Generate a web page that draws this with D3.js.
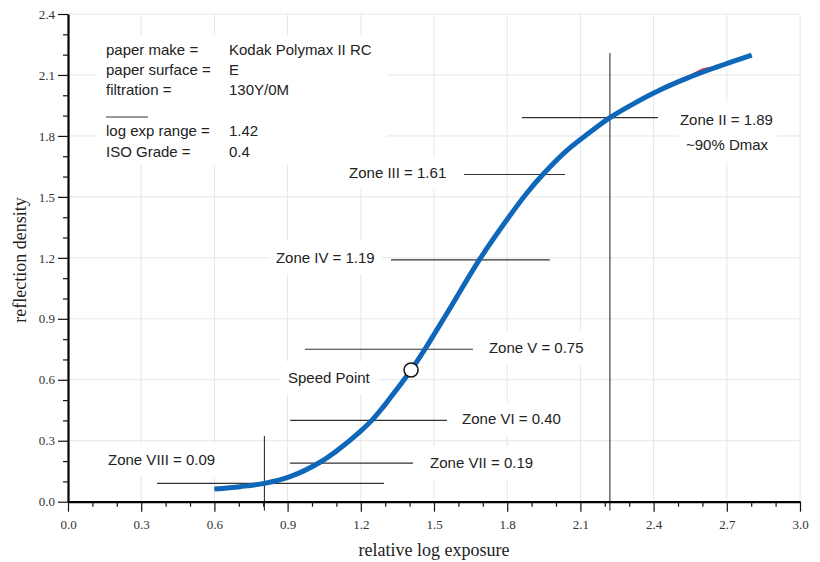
<!DOCTYPE html>
<html><head><meta charset="utf-8">
<script src="https://cdn.jsdelivr.net/npm/d3@7"></script>
<style>
body{margin:0;background:#fff;}
svg{display:block;}
</style></head><body>
<svg id="c" width="820" height="562"></svg>
<script>
// Smoothed curve (blue)
const fitX = [0.60,0.705,0.805,0.91,1.033,1.115,1.197,1.245,1.32,1.406,1.463,1.552,1.689,1.798,1.88,1.948,2.044,2.139,2.221,2.317,2.426,2.535,2.645,2.802];
const fitY = [0.062,0.074,0.09,0.123,0.194,0.263,0.345,0.40,0.51,0.648,0.751,0.925,1.196,1.386,1.518,1.613,1.728,1.818,1.890,1.958,2.026,2.083,2.133,2.198];
// Measured data (red)
const measX = [0.6,0.7,0.8,0.9,1.0,1.1,1.2,1.3,1.4,1.5,1.6,1.7,1.8,1.9,2.0,2.1,2.2,2.3,2.4,2.5,2.6,2.7,2.8];
const measY = [0.062,0.073,0.089,0.119,0.172,0.238,0.348,0.465,0.635,0.83,1.03,1.215,1.39,1.545,1.68,1.785,1.873,1.948,2.012,2.068,2.128,2.154,2.197];
// Zone marker lines
const zoneNames = ["Zone VIII = 0.09","Zone VII = 0.19","Zone VI = 0.40","Zone V = 0.75","Zone IV = 1.19","Zone III = 1.61","Zone II = 1.89"];
const zoneY  = [0.09,0.19,0.40,0.75,1.19,1.61,1.89];
const zoneX1 = [0.365,0.91,0.91,0.971,1.324,1.623,1.86];
const zoneX2 = [1.295,1.414,1.553,1.66,1.975,2.037,2.418];
// label anchors (data coords, text start)
const zoneLabX = [0.164,1.484,1.615,1.725,0.852,1.152,2.508];
const zoneLabY = [0.204,0.19,0.406,0.756,1.202,1.618,1.882];
// vertical markers
const vX = [0.805, 2.221];
const vTop = [0.323, 2.208];
const speedPt = [1.406, 0.648];
const xTicks = [0.0,0.3,0.6,0.9,1.2,1.5,1.8,2.1,2.4,2.7,3.0];
const yTicks = [0.0,0.3,0.6,0.9,1.2,1.5,1.8,2.1,2.4];
const legendKeys = ["paper make =","paper surface =","filtration =","","log exp range =","ISO Grade ="];
const legendVals = ["Kodak Polymax II RC","E","130Y/0M","","1.42","0.4"];

const svg = d3.select("#c");
const x = d3.scaleLinear().domain([0,3]).range([68,800]);
const y = d3.scaleLinear().domain([0,2.4]).range([501.7,14]);
const sans = "Liberation Sans, Arial, sans-serif";
const serif = "Liberation Serif, DejaVu Serif, serif";

// grid
const g = svg.append("g");
g.selectAll(".gx").data(xTicks.slice(1)).join("line")
  .attr("x1",d=>x(d)).attr("x2",d=>x(d)).attr("y1",y(0)).attr("y2",y(2.4))
  .attr("stroke","#e6e6e6").attr("stroke-width",1);
g.selectAll(".gy").data(yTicks.slice(1)).join("line")
  .attr("x1",x(0)).attr("x2",x(3)).attr("y1",d=>y(d)).attr("y2",d=>y(d))
  .attr("stroke","#e6e6e6").attr("stroke-width",1);

const boxes = svg.append("g");
const lines = svg.append("g");
const texts = svg.append("g");

// legend
boxes.append("rect").attr("x",97).attr("y",35).attr("width",290).attr("height",130).attr("fill","#fff");
const rowY = [50,70,90,null,131,152];
legendKeys.forEach((k,i)=>{
  if(rowY[i]===null) return;
  texts.append("text").attr("x",106).attr("y",rowY[i]).attr("dy","0.35em")
    .attr("font-family",sans).attr("font-size",15).attr("fill","#222").text(k);
  texts.append("text").attr("x",229).attr("y",rowY[i]).attr("dy","0.35em")
    .attr("font-family",sans).attr("font-size",15).attr("fill","#222").text(legendVals[i]);
});
texts.append("line").attr("x1",106).attr("x2",148).attr("y1",117).attr("y2",117).attr("stroke","#333").attr("stroke-width",1);

function label(str, px, py){
  const t = texts.append("text").attr("x",px).attr("y",py).attr("dy","0.35em")
    .attr("font-family",sans).attr("font-size",15).attr("fill","#222").text(str);
  const b = t.node().getBBox();
  boxes.append("rect").attr("x",b.x-7).attr("y",b.y-8).attr("width",b.width+14).attr("height",b.height+16).attr("fill","#fff");
}
zoneNames.forEach((n,i)=>label(n, x(zoneLabX[i]), y(zoneLabY[i])));
label("~90% Dmax", 686, 145);
label("Speed Point", 288, 378);

lines.selectAll(".zl").data(zoneY).join("line")
  .attr("x1",(d,i)=>x(zoneX1[i])).attr("x2",(d,i)=>x(zoneX2[i]))
  .attr("y1",d=>y(d)).attr("y2",d=>y(d))
  .attr("stroke","#333").attr("stroke-width",1.1);
lines.selectAll(".vl").data(vX).join("line")
  .attr("x1",d=>x(d)).attr("x2",d=>x(d))
  .attr("y1",y(-0.045)).attr("y2",(d,i)=>y(vTop[i]))
  .attr("stroke","#333").attr("stroke-width",1.1);

const measData = measX.map((v,i)=>[v,measY[i]]);
const fitData = fitX.map((v,i)=>[v,fitY[i]]);
svg.append("path").datum(measData)
  .attr("d",d3.line().x(d=>x(d[0])).y(d=>y(d[1])))
  .attr("fill","none").attr("stroke","#e3242b").attr("stroke-width",1.6);
svg.append("path").datum(fitData)
  .attr("d",d3.line().x(d=>x(d[0])).y(d=>y(d[1])).curve(d3.curveCatmullRom.alpha(0.5)))
  .attr("fill","none").attr("stroke","#0f67b9").attr("stroke-width",5).attr("stroke-linecap","butt");

svg.append("circle").attr("cx",x(speedPt[0])).attr("cy",y(speedPt[1])).attr("r",7)
  .attr("fill","#fff").attr("stroke","#111").attr("stroke-width",1.5);

// axes
const fmt = d3.format(".1f");
const xMinor = d3.range(0,31).map(d=>d/10).filter(d=>Math.round(d*10)%3!==0);
const yMinor = d3.range(0,25).map(d=>d/10).filter(d=>Math.round(d*10)%3!==0);

const xa = svg.append("g").attr("transform",`translate(0,${y(0)})`);
xa.call(d3.axisBottom(x).tickValues(xTicks).tickFormat(fmt).tickSize(10).tickPadding(8).tickSizeOuter(0));
xa.append("g").call(d3.axisBottom(x).tickValues(xMinor).tickFormat("").tickSize(5).tickSizeOuter(0))
  .select(".domain").remove();
const ya = svg.append("g").attr("transform",`translate(${x(0)},0)`);
ya.call(d3.axisLeft(y).tickValues(yTicks).tickFormat(fmt).tickSize(10).tickPadding(3).tickSizeOuter(0));
ya.append("g").call(d3.axisLeft(y).tickValues(yMinor).tickFormat("").tickSize(5).tickSizeOuter(0))
  .select(".domain").remove();
svg.selectAll(".domain").attr("stroke","#000").attr("stroke-width",2.2);
svg.selectAll(".tick line").attr("stroke","#111").attr("stroke-width",1.2);
svg.selectAll(".tick text").attr("font-family",serif).attr("font-size",13).attr("fill","#333");

svg.append("text").attr("x",434).attr("y",550).attr("dy","0.35em").attr("text-anchor","middle")
  .attr("font-family",serif).attr("font-size",18).attr("fill","#222").text("relative log exposure");
svg.append("text").attr("transform","translate(20,260) rotate(-90)").attr("dy","0.35em").attr("text-anchor","middle")
  .attr("font-family",serif).attr("font-size",18).attr("fill","#222").text("reflection density");
</script>
</body></html>
